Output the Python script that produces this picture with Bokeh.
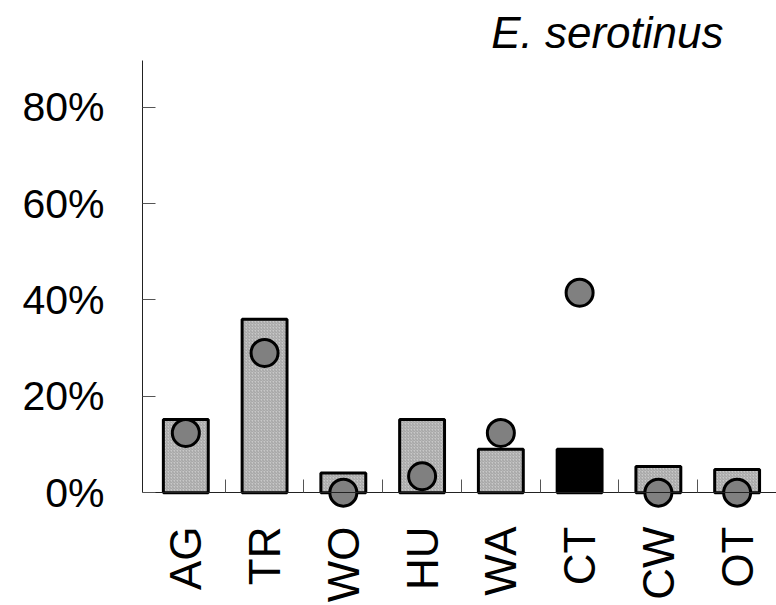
from bokeh.plotting import figure
from bokeh.models import FixedTicker, PrintfTickFormatter, Range1d, Title, ColumnDataSource, LinearAxis
from bokeh.embed import file_html
from bokeh.resources import INLINE
import math

# ---- data ----
categories = ["AG", "TR", "WO", "HU", "WA", "CT", "CW", "OT"]
bar_values = [15.2, 36.0, 4.1, 15.2, 9.0, 9.0, 5.4, 4.8]
point_values = [12.4, 29.0, 0.0, 3.4, 12.4, 41.5, 0.0, 0.0]
bar_colors = ["#c8c8c8", "#c8c8c8", "#c8c8c8", "#c8c8c8", "#c8c8c8", "#000000", "#c8c8c8", "#c8c8c8"]
bar_hatch = ["/", "/", "/", "/", "/", " ", "/", "/"]
y_ticks = [0, 20, 40, 60, 80]
title_text = "E. serotinus"

xs = list(range(len(categories)))
src = ColumnDataSource(dict(x=xs, top=bar_values, pt=point_values,
                            color=bar_colors, hatch=bar_hatch))

p = figure(width=776, height=605, output_backend="svg", toolbar_location=None,
           x_range=Range1d(-0.55, len(categories) - 0.5),
           y_range=Range1d(-3.5, 89.7),
           min_border_left=142, min_border_right=0, min_border_top=60,
           min_border_bottom=95)

p.add_layout(Title(text=title_text, text_font="Liberation Sans", text_font_size="44px",
                   text_font_style="italic", text_color="#000000", align="right",
                   offset=53, standoff=8), "above")

p.vbar(x="x", top="top", bottom=0, width=0.57, source=src,
       fill_color="color", line_color="#000000", line_width=3,
       hatch_pattern="hatch", hatch_color="#a0a0a0", hatch_scale=3, hatch_weight=1)

p.scatter(x="x", y="pt", source=src, marker="circle", size=27,
          fill_color="#808080", line_color="#000000", line_width=3)

p.grid.visible = False
p.outline_line_color = None
p.background_fill_color = "white"
p.border_fill_color = "white"

# y axis
ya = p.yaxis[0]
ya.ticker = FixedTicker(ticks=y_ticks, minor_ticks=[])
ya.formatter = PrintfTickFormatter(format="%d%%")
ya.bounds = (0, 89.7)
ya.major_tick_in = 13
ya.major_tick_out = 0
ya.minor_tick_in = 0
ya.minor_tick_out = 0
ya.major_tick_line_color = "#555555"
ya.axis_line_color = "#222222"
ya.major_label_text_font = "Liberation Sans"
ya.major_label_text_font_size = "41px"
ya.major_label_text_color = "#000000"
ya.major_label_standoff = 38

# x axis: labels (placed below the frame)
xa = p.xaxis[0]
xa.ticker = FixedTicker(ticks=xs, minor_ticks=[])
xa.major_label_overrides = {i: c for i, c in zip(xs, categories)}
xa.major_tick_in = 0
xa.major_tick_out = 0
xa.minor_tick_in = 0
xa.minor_tick_out = 0
xa.axis_line_color = None
xa.major_label_orientation = math.pi / 2
xa.major_label_text_font = "Liberation Sans"
xa.major_label_text_font_size = "44px"
xa.major_label_text_color = "#000000"
xa.major_label_standoff = 17

# x axis line and boundary ticks at the zero level
x0 = LinearAxis(fixed_location=0,
                ticker=FixedTicker(ticks=[], minor_ticks=[i + 0.5 for i in xs[:-1]]),
                major_tick_in=0, major_tick_out=0,
                minor_tick_in=13, minor_tick_out=0,
                minor_tick_line_color="#555555",
                axis_line_color="#222222",
                major_label_text_font_size="0px")
p.add_layout(x0, "below")

open("out.html", "w").write(file_html(p, INLINE))
